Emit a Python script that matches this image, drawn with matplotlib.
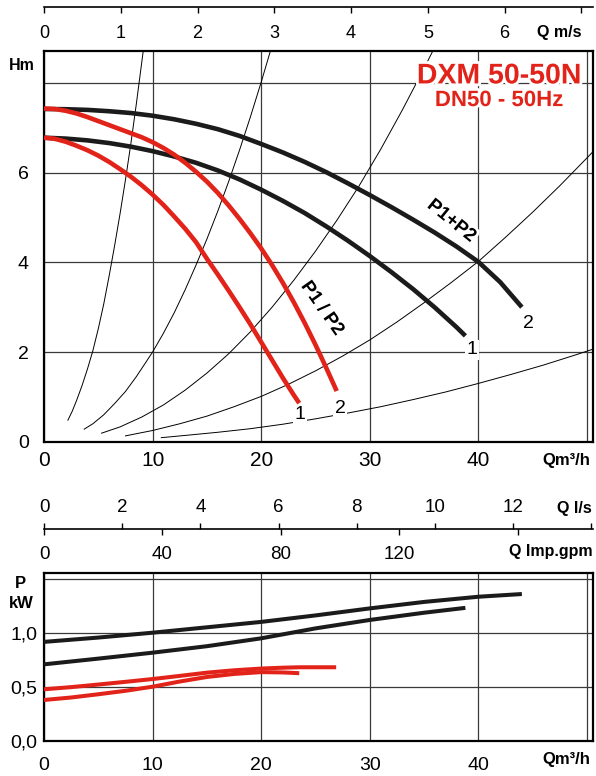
import numpy as np
import matplotlib
matplotlib.use("Agg")
import matplotlib.pyplot as plt
import matplotlib.patheffects as pe

# ---- head curves H(Q): flow in m3/h, head in m ----
q_head_single_1 = [0, 1, 2, 3, 4, 5, 6, 7, 8, 9, 10, 11, 12, 13, 14, 15, 16, 17, 18,
                   19, 20, 21, 22, 23, 23.5]
h_head_single_1 = [6.78, 6.755, 6.69, 6.60, 6.50, 6.38, 6.24, 6.08, 5.91, 5.72, 5.51,
                   5.28, 5.02, 4.75, 4.45, 4.08, 3.73, 3.37, 3.00, 2.62, 2.22, 1.82,
                   1.42, 1.04, 0.86]

q_head_single_2 = [0, 1, 2, 3, 4, 5, 6, 7, 8, 9, 10, 11, 12, 13, 14, 15, 16, 17, 18,
                   19, 20, 21, 22, 23, 24, 25, 26, 26.95]
h_head_single_2 = [7.43, 7.42, 7.38, 7.32, 7.24, 7.15, 7.06, 6.97, 6.88, 6.79, 6.68,
                   6.55, 6.40, 6.22, 6.02, 5.80, 5.55, 5.27, 4.97, 4.65, 4.31, 3.94,
                   3.54, 3.11, 2.65, 2.16, 1.64, 1.13]

q_head_dual_1 = [0, 2, 4, 6, 8, 10, 12, 14, 16, 18, 20, 22, 24, 26, 28, 30, 32, 34,
                 36, 38, 38.8]
h_head_dual_1 = [6.78, 6.76, 6.72, 6.66, 6.58, 6.48, 6.36, 6.22, 6.05, 5.85, 5.62,
                 5.37, 5.10, 4.80, 4.48, 4.14, 3.78, 3.40, 2.99, 2.55, 2.36]

q_head_dual_2 = [0, 2, 4, 6, 8, 10, 12, 14, 16, 18, 20, 22, 24, 26, 28, 30, 32, 34,
                 36, 38, 40, 42, 44]
h_head_dual_2 = [7.42, 7.415, 7.40, 7.37, 7.33, 7.27, 7.19, 7.09, 6.97, 6.82, 6.64,
                 6.45, 6.24, 6.01, 5.76, 5.50, 5.23, 4.95, 4.66, 4.35, 4.01, 3.56, 3.00]

# ---- system resistance curves ----
q_sys_a = [2.2, 2.6, 3.0, 3.5, 4.0, 4.5, 5.0, 5.5, 6.0, 6.5, 7.0, 7.5, 8.0, 8.5, 9.0, 9.4]
h_sys_a = [0.48, 0.68, 0.92, 1.25, 1.62, 2.03, 2.52, 3.07, 3.70, 4.37, 5.08, 5.84,
           6.65, 7.53, 8.46, 9.2]

q_sys_b = [3.7, 4.5, 5.5, 6.5, 7.5, 8.5, 10, 11, 12, 13, 14, 15, 16, 17, 18, 19, 20,
           21, 21.5]
h_sys_b = [0.28, 0.40, 0.60, 0.85, 1.12, 1.45, 2.0, 2.42, 2.88, 3.39, 3.94, 4.52,
           5.14, 5.80, 6.50, 7.24, 8.02, 8.84, 9.26]

q_sys_c = [5.3, 7, 9, 11, 13, 15, 17, 19, 21, 23, 25, 27, 29, 31, 33, 35, 36.5]
h_sys_c = [0.19, 0.33, 0.55, 0.82, 1.15, 1.53, 1.96, 2.45, 3.0, 3.6, 4.25, 4.95,
           5.7, 6.52, 7.4, 8.33, 9.05]

q_sys_d = [7.5, 10, 12.5, 15, 17.5, 20, 22.5, 25, 27.5, 30, 32.5, 35, 37.5, 40,
           42.5, 45, 47.5, 50, 51]
h_sys_d = [0.13, 0.25, 0.40, 0.57, 0.78, 1.01, 1.28, 1.58, 1.91, 2.27, 2.67, 3.10,
           3.55, 4.02, 4.56, 5.12, 5.71, 6.33, 6.58]

q_sys_e = [10.8, 13, 16, 19, 22, 25, 28, 31, 34, 37, 40, 43, 46, 49, 51]
h_sys_e = [0.09, 0.14, 0.21, 0.29, 0.39, 0.51, 0.64, 0.78, 0.94, 1.11, 1.30, 1.50,
           1.71, 1.94, 2.10]

# ---- power curves P(Q): kW ----
q_pow_single_1 = [0, 2.5, 5, 7.5, 10, 12.5, 15, 17.5, 20, 22, 23.5]
p_pow_single_1 = [0.377, 0.40, 0.43, 0.462, 0.50, 0.548, 0.59, 0.618, 0.635, 0.632, 0.625]

q_pow_single_2 = [0, 2.5, 5, 7.5, 10, 12.5, 15, 17.5, 20, 22, 23.5, 26.9]
p_pow_single_2 = [0.476, 0.496, 0.52, 0.545, 0.571, 0.60, 0.63, 0.652, 0.668, 0.676,
                  0.68, 0.68]

q_pow_dual_1 = [0, 5, 10, 15, 20, 25, 30, 35, 38.8]
p_pow_dual_1 = [0.707, 0.76, 0.815, 0.875, 0.948, 1.04, 1.118, 1.185, 1.23]

q_pow_dual_2 = [0, 5, 10, 15, 20, 25, 30, 35, 40, 44]
p_pow_dual_2 = [0.915, 0.955, 1.0, 1.05, 1.10, 1.16, 1.225, 1.285, 1.333, 1.358]

# ---- axis ticks and labels ----
q_ticks = [0, 10, 20, 30, 40, 50]
q_labels = ["0", "10", "20", "30", "40", ""]
h_ticks = [0, 2, 4, 6, 8]
h_labels = ["0", "2", "4", "6", ""]
p_ticks = [0, 0.5, 1.0, 1.5]
p_labels = ["0,0", "0,5", "1,0", ""]
v_ticks = [0, 1, 2, 3, 4, 5, 6, 7]
v_labels = ["0", "1", "2", "3", "4", "5", "6", "Q m/s"]
ls_ticks = [0, 2, 4, 6, 8, 10, 12, 14]
ls_labels = ["0", "2", "4", "6", "8", "10", "12", "Q l/s"]
gpm_ticks = [0, 40, 80, 120, 160]
gpm_labels = ["0", "40", "80", "120", ""]

# unit conversions from m3/h
PIPE_DN = 0.050                                   # m
M3H_PER_MS = 3600 * np.pi * PIPE_DN ** 2 / 4      # m3/h per 1 m/s velocity
M3H_PER_LS = 3.6
M3H_PER_GPM = 4.54609e-3 * 60

Q_MAX = 50.55
H_MAX = 8.72
P_MAX = 1.55

RED = "#e2231a"
BLACK = "#1b1b1b"
GRID = "#3a3a3a"

plt.rcParams["font.family"] = ["Liberation Sans", "DejaVu Sans"]

W, H = 596, 776
PT = 0.72  # points per pixel at 100 dpi
fig = plt.figure(figsize=(W / 100, H / 100), dpi=100)


def box(left, top, right, bottom):
    return [left / W, 1 - bottom / H, (right - left) / W, (bottom - top) / H]


def style_frame(ax):
    for s in ax.spines.values():
        s.set_linewidth(1.6)
        s.set_color("black")
    ax.grid(True, color=GRID, linewidth=0.9)
    ax.set_axisbelow(True)
    ax.tick_params(length=0)


# ================= head chart =================
ax_h = fig.add_axes(box(44, 50.7, 593, 441.7))
ax_h.set_xlim(0, Q_MAX)
ax_h.set_ylim(0, H_MAX)
style_frame(ax_h)
ax_h.set_xticks(q_ticks, q_labels, fontsize=15)
ax_h.set_yticks(h_ticks, h_labels, fontsize=14)
ax_h.tick_params(axis="x", pad=9 * PT)
ax_h.tick_params(axis="y", pad=15 * PT)

for qs, hs in [(q_sys_a, h_sys_a), (q_sys_b, h_sys_b), (q_sys_c, h_sys_c),
               (q_sys_d, h_sys_d), (q_sys_e, h_sys_e)]:
    ax_h.plot(qs, hs, color="black", lw=0.7, zorder=2)

curve_kw = dict(lw=3.3, solid_capstyle="butt", solid_joinstyle="round", zorder=4)
ax_h.plot(q_head_dual_2, h_head_dual_2, color=BLACK, **curve_kw)
ax_h.plot(q_head_dual_1, h_head_dual_1, color=BLACK, **curve_kw)
ax_h.plot(q_head_single_2, h_head_single_2, color=RED, **curve_kw)
ax_h.plot(q_head_single_1, h_head_single_1, color=RED, **curve_kw)

num_box = dict(boxstyle="square,pad=0.08", fc="white", ec="none")
for x, y, s in [(23.6, 0.6, "1"), (27.3, 0.75, "2"), (39.4, 2.05, "1"), (44.6, 2.64, "2")]:
    ax_h.text(x, y, s, fontsize=14, ha="center", va="center", bbox=num_box, zorder=5)

halo = [pe.withStroke(linewidth=4, foreground="white")]
ax_h.text(25.6, 2.97, "P1 / P2", fontsize=13.5, fontweight="bold", rotation=-55,
          ha="center", va="center", rotation_mode="anchor", path_effects=halo, zorder=5)
ax_h.text(37.5, 4.92, "P1+P2", fontsize=13.5, fontweight="bold", rotation=-39,
          ha="center", va="center", rotation_mode="anchor", path_effects=halo, zorder=5)

ax_h.text(41.9, 7.99, "DXM 50-50N", color=RED, fontsize=20.5, fontweight="bold",
          ha="center", va="baseline", path_effects=halo, zorder=6)
ax_h.text(41.9, 7.485, "DN50 - 50Hz", color=RED, fontsize=16, fontweight="bold",
          ha="center", va="baseline", path_effects=halo, zorder=6)

ax_h.annotate("Hm", xy=(0, 8.4), xycoords=("axes fraction", "data"),
              xytext=(-22 * PT, 0), textcoords="offset points",
              ha="center", va="center", fontsize=11.5, fontweight="bold")
ax_h.annotate("Qm³/h", xy=(1, 0), xycoords="axes fraction",
              xytext=(-3 * PT, -11.6 * PT), textcoords="offset points",
              ha="right", va="top", fontsize=12, fontweight="bold")

# ================= velocity scale (top) =================
ax_v = fig.add_axes(box(44, 6.7, 593, 7.7))
ax_v.set_xlim(0, Q_MAX / M3H_PER_MS)
ax_v.set_yticks([])
ax_v.patch.set_visible(False)
for side in ("bottom", "left", "right"):
    ax_v.spines[side].set_visible(False)
ax_v.spines["top"].set_linewidth(1.2)
ax_v.set_xticks(v_ticks, v_labels, fontsize=13)
ax_v.tick_params(axis="x", top=True, bottom=False, labelbottom=True, labeltop=False,
                 direction="in", length=6 * PT, width=1, pad=17.3 * PT)
lbl = ax_v.get_xticklabels()[-1]
lbl.set_fontweight("bold")
lbl.set_fontsize(11.5)
lbl.set_horizontalalignment("right")

# ================= l/s and Imp.gpm scales =================
ax_ls = fig.add_axes(box(44, 529, 593, 530))
ax_ls.set_xlim(0, Q_MAX / M3H_PER_LS)
ax_ls.set_yticks([])
ax_ls.patch.set_visible(False)
for side in ("bottom", "left", "right"):
    ax_ls.spines[side].set_visible(False)
ax_ls.spines["top"].set_linewidth(1.2)
ax_ls.set_xticks(ls_ticks, ls_labels, fontsize=13.5)
ax_ls.tick_params(axis="x", top=True, bottom=False, labeltop=True, labelbottom=False,
                  direction="out", length=6.5 * PT, width=1, pad=6.3 * PT)
lbl = ax_ls.get_xticklabels()[-1]
lbl.set_fontweight("bold")
lbl.set_fontsize(11.5)
lbl.set_horizontalalignment("right")

ax_gpm = fig.add_axes(box(44, 528, 593, 529))
ax_gpm.set_xlim(0, Q_MAX / M3H_PER_GPM)
ax_gpm.set_yticks([])
ax_gpm.patch.set_visible(False)
for s in ax_gpm.spines.values():
    s.set_visible(False)
ax_gpm.set_xticks(gpm_ticks, gpm_labels, fontsize=13.5)
ax_gpm.tick_params(axis="x", top=False, bottom=True, labelbottom=True,
                   direction="out", length=6 * PT, width=1, pad=11 * PT)
ax_gpm.annotate("Q Imp.gpm", xy=(1, 0), xycoords="axes fraction",
                xytext=(0, -15 * PT), textcoords="offset points",
                ha="right", va="top", fontsize=11.5, fontweight="bold")

# ================= power chart =================
ax_p = fig.add_axes(box(44, 573.3, 593, 740.7))
ax_p.set_xlim(0, Q_MAX)
ax_p.set_ylim(0, P_MAX)
style_frame(ax_p)
ax_p.set_xticks(q_ticks, q_labels, fontsize=14)
ax_p.set_yticks(p_ticks, p_labels, fontsize=14)
ax_p.tick_params(axis="x", pad=16 * PT)
ax_p.tick_params(axis="y", pad=7 * PT)

pow_kw = dict(lw=2.9, solid_capstyle="butt", solid_joinstyle="round", zorder=4)
ax_p.plot(q_pow_dual_2, p_pow_dual_2, color=BLACK, **pow_kw)
ax_p.plot(q_pow_dual_1, p_pow_dual_1, color=BLACK, **pow_kw)
ax_p.plot(q_pow_single_2, p_pow_single_2, color=RED, **pow_kw)
ax_p.plot(q_pow_single_1, p_pow_single_1, color=RED, **pow_kw)

ax_p.annotate("P", xy=(0, 1.451), xycoords=("axes fraction", "data"),
              xytext=(-24 * PT, 0), textcoords="offset points",
              ha="center", va="center", fontsize=12, fontweight="bold")
ax_p.annotate("kW", xy=(0, 1.266), xycoords=("axes fraction", "data"),
              xytext=(-23 * PT, 0), textcoords="offset points",
              ha="center", va="center", fontsize=12, fontweight="bold")
ax_p.annotate("Qm³/h", xy=(1, 0), xycoords="axes fraction",
              xytext=(-3 * PT, -11 * PT), textcoords="offset points",
              ha="right", va="top", fontsize=12, fontweight="bold")

fig.savefig("out.png", dpi=100)
